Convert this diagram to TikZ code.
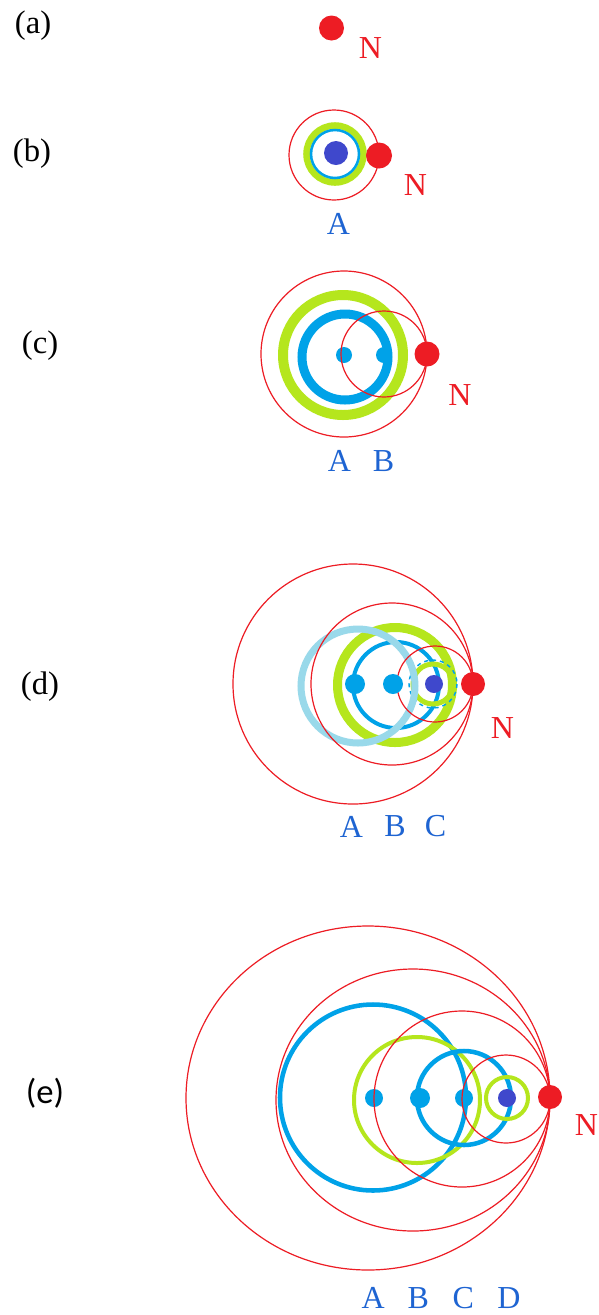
\documentclass[tikz,border=0pt]{standalone}
\usepackage{fontspec}
\setmainfont{Liberation Serif}
\newfontfamily\calfont{Carlito}
\usetikzlibrary{positioning}

\definecolor{ptred}{HTML}{ED1C24}
\definecolor{ptblue}{HTML}{00A2E8}
\definecolor{ptindigo}{HTML}{3F48CC}
\definecolor{ptlime}{HTML}{B5E61D}
\definecolor{ptsky}{HTML}{99D9EA}
\definecolor{lblblue}{RGB}{30,100,210}

\begin{document}
\begin{tikzpicture}[x=0.75pt, y=-0.75pt,
    orbit/.style={draw=ptred, line width=0.9pt},
    ring/.style={draw=#1},
    tag/.style={font=\fontsize{24.5}{27}\selectfont, inner sep=0pt},
    lbl/.style={font=\fontsize{24}{26}\selectfont, text=lblblue, inner sep=0pt},
    nlbl/.style={font=\fontsize{24}{26}\selectfont, text=ptred, inner sep=0pt}]

    \fill[white] (0,0) rectangle (599,1315);
    \useasboundingbox (0,0) rectangle (599,1315);

    % (a) lone nucleus
    \node[tag] (taga) at (33,26) {(a)};
    \coordinate (Na) at (331.5,28);
    \fill[ptred] (Na) circle (12.5);
    \node[nlbl] (na) at (370.5,48) {N};

    % (b) one orbit
    \node[tag] (tagb) at (32,154) {(b)};
    \coordinate (Ab) at (336,153);
    \coordinate (Nb) at (379,155.5);
    \draw[ring=ptlime, line width=4.9pt] (335,154) circle (28.5);
    \draw[ring=ptblue, line width=1.9pt] (335,154) circle (24);
    \fill[ptindigo] (Ab) circle (12);
    \draw[orbit] (334,155) circle (45);
    \fill[ptred] (Nb) circle (13);
    \node[nlbl] (nb) at (415.5,185) {N};
    \node[lbl] (lAb) at (338.5,224) {A};

    % (c) two orbits
    \node[tag] (tagc) at (40,346) {(c)};
    \coordinate (Ac) at (344,355);
    \coordinate (Bc) at (384,355);
    \coordinate (Nc) at (427,354);
    \draw[ring=ptlime, line width=7.5pt] (343,355) circle (60);
    \draw[ring=ptblue, line width=6.75pt] (345,357) circle (43);
    \fill[ptblue] (Ac) circle (8);
    \fill[ptblue] (Bc) circle (8);
    \draw[orbit] (344,354) circle (83);
    \draw[orbit] (384,354) circle (43);
    \fill[ptred] (Nc) circle (12.5);
    \node[nlbl] (nc) at (460,395) {N};
    \node[lbl] (lAc) at (339.5,461) {A};
    \node[lbl] (lBc) at (383.5,461) {B};

    % (d) three orbits
    \node[tag] (tagd) at (40,687) {(d)};
    \coordinate (Ad) at (355,684);
    \coordinate (Bd) at (393,684);
    \coordinate (Cd) at (434,684);
    \coordinate (Nd) at (473,684);
    \draw[ring=ptlime, line width=6.75pt] (395,685) circle (57.5);
    \draw[ring=ptblue, line width=3pt] (396,685) circle (43);
    \draw[ring=ptlime, line width=3.75pt] (433,684) circle (20);
    \draw[ring=ptblue, line width=1.1pt, dashed] (433,684) circle (24);
    \draw[ring=ptsky, line width=5.25pt] (358,686) circle (57);
    \draw[orbit] (353,684) circle (120);
    \draw[orbit] (392,684) circle (81);
    \draw[orbit] (435,684) circle (38);
    \fill[ptblue] (Ad) circle (10);
    \fill[ptblue] (Bd) circle (10);
    \fill[ptindigo] (Cd) circle (9);
    \fill[ptred] (Nd) circle (12);
    \node[nlbl] (nd) at (502.5,728.5) {N};
    \node[lbl] (lAd) at (351.5,826.5) {A};
    \node[lbl] (lBd) at (395,826.5) {B};
    \node[lbl] (lCd) at (435.5,826.5) {C};

    % (e) four orbits
    \node[tag, font=\calfont\fontsize{26}{28}\selectfont] (tage) at (45,1093) {(e)};
    \coordinate (Ae) at (374,1098);
    \coordinate (Be) at (420,1098);
    \coordinate (Ce) at (464,1098);
    \coordinate (De) at (507,1098);
    \coordinate (Ne) at (550,1097);
    \draw[ring=ptblue, line width=3.4pt] (373,1097.5) circle (93);
    \draw[ring=ptlime, line width=3pt] (417,1100) circle (63);
    \draw[ring=ptblue, line width=3.4pt] (464,1098) circle (47);
    \draw[ring=ptlime, line width=3pt] (507,1098) circle (21);
    \fill[ptblue] (Ae) circle (9);
    \fill[ptblue] (Be) circle (10);
    \fill[ptblue] (Ce) circle (9);
    \fill[ptindigo] (De) circle (9);
    \draw[orbit] (368,1098) ellipse [x radius=182, y radius=172];
    \draw[orbit] (413,1100) ellipse [x radius=137, y radius=131];
    \draw[orbit] (462,1099) circle (88);
    \draw[orbit] (506,1099) circle (44);
    \fill[ptred] (Ne) circle (12);
    \node[nlbl] (ne) at (586.5,1125) {N};
    \node[lbl] (lAe) at (373.3,1298) {A};
    \node[lbl] (lBe) at (418.3,1298) {B};
    \node[lbl] (lCe) at (463.3,1298) {C};
    \node[lbl] (lDe) at (509,1298) {D};
\end{tikzpicture}
\end{document}
